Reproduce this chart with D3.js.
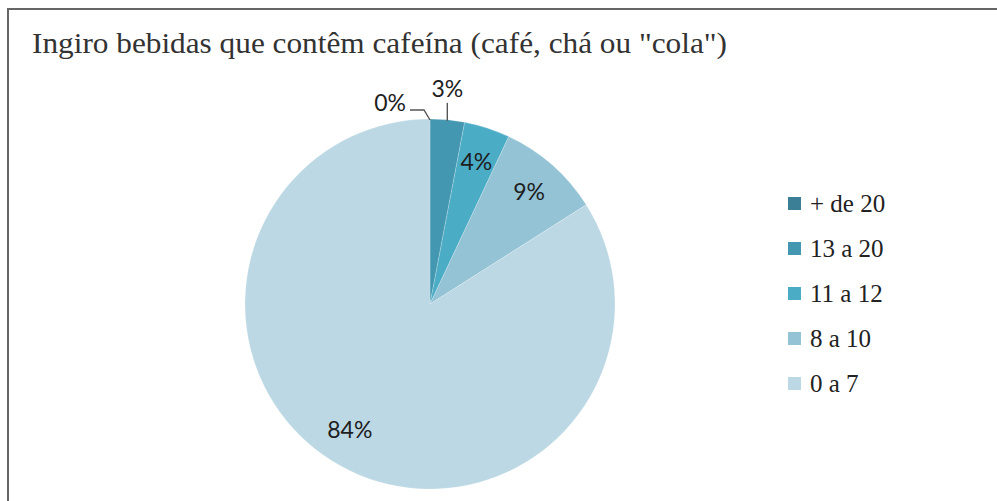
<!DOCTYPE html>
<html>
<head>
<meta charset="utf-8">
<script src="https://cdn.jsdelivr.net/npm/d3@7"></script>
<style>
  html, body { margin: 0; padding: 0; background: #fff; }
  svg { display: block; }
</style>
</head>
<body>
<svg id="chart" width="997" height="501"></svg>
<script>
// Caffeine-drink intake, share of respondents per band
const categories = ["+ de 20", "13 a 20", "11 a 12", "8 a 10", "0 a 7"];
const percents = [0, 3, 4, 9, 84];
const sliceColors = ["#3a7f95", "#4397b0", "#4bacc6", "#93c3d5", "#bcd8e4"];
const title = "Ingiro bebidas que contêm cafeína (café, chá ou \"cola\")";

const svg = d3.select("#chart");
const W = 997, H = 501;
const serif = "'Liberation Serif', 'Times New Roman', serif";

// frame (open at right and bottom)
svg.append("path")
  .attr("d", `M8,${H} L8,9 L${W},9`)
  .attr("fill", "none")
  .attr("stroke", "#666")
  .attr("stroke-width", 2);

svg.append("text")
  .attr("x", 32)
  .attr("y", 53)
  .attr("font-family", serif)
  .attr("font-size", 30)
  .attr("textLength", 695)
  .attr("lengthAdjust", "spacingAndGlyphs")
  .attr("fill", "#333")
  .text(title);

const cx = 430, cy = 304, r = 185;
const g = svg.append("g").attr("transform", `translate(${cx},${cy})`);

const data = categories.map((c, i) => ({ cat: c, value: percents[i], color: sliceColors[i] }));
const pie = d3.pie().value(d => d.value).sort(null);
const arcs = pie(data);
const arc = d3.arc().innerRadius(0).outerRadius(r);
const labelArc = d3.arc().innerRadius(r * 0.81).outerRadius(r * 0.81);

g.selectAll("path.slice")
  .data(arcs)
  .join("path")
  .attr("class", "slice")
  .attr("d", arc)
  .attr("fill", d => d.data.color)
  .attr("stroke", "rgba(255,255,255,0.35)")
  .attr("stroke-width", 0.6);

const labelFont = "Lato, 'Open Sans', sans-serif";
const labelSize = 23;
const fmt = d => d3.format(".0f")(d.data.value) + "%";

// slices too thin for an inside label get a leader line above the pie
const outside = arcs.filter(d => d.endAngle - d.startAngle < 0.25);
const inside = arcs.filter(d => d.endAngle - d.startAngle >= 0.25);

g.selectAll("text.inner")
  .data(inside)
  .join("text")
  .attr("class", "inner")
  .attr("transform", d => {
    const [x, y] = labelArc.centroid(d);
    // the large slice's label sits a little further round
    return d.value > 50 ? `translate(${x - 8},${y - 6})` : `translate(${x},${y})`;
  })
  .attr("text-anchor", "middle")
  .attr("dy", "0.36em")
  .attr("font-family", labelFont)
  .attr("font-size", labelSize)
  .attr("fill", "#1e1e1e")
  .text(fmt);

const edge = d => {
  const a = (d.startAngle + d.endAngle) / 2;
  return [Math.sin(a) * (r - 1), -Math.cos(a) * (r - 1)];
};

outside.forEach(d => {
  const [ex, ey] = edge(d);
  let pts, lx, ly, anchor;
  if (d.value === 0) {
    // bend to the left for the empty band
    pts = [[ex, ey], [ex - 6, ey - 10], [ex - 20, ey - 10]];
    lx = ex - 24; ly = ey - 9; anchor = "end";
  } else {
    pts = [[ex, ey], [ex, ey - 18]];
    lx = ex; ly = ey - 24; anchor = "middle";
  }
  g.append("path")
    .attr("d", d3.line()(pts))
    .attr("fill", "none")
    .attr("stroke", "#555")
    .attr("stroke-width", 1.4);
  g.append("text")
    .attr("x", lx)
    .attr("y", ly)
    .attr("text-anchor", anchor)
    .attr("font-family", labelFont)
    .attr("font-size", labelSize)
    .attr("fill", "#1e1e1e")
    .text(fmt(d));
});

// legend
const lg = svg.append("g").attr("transform", "translate(788,204)");
const rows = lg.selectAll("g.row")
  .data(data)
  .join("g")
  .attr("class", "row")
  .attr("transform", (d, i) => `translate(0,${i * 45})`);
rows.append("rect")
  .attr("x", 0).attr("y", -7)
  .attr("width", 13).attr("height", 13)
  .attr("fill", d => d.color);
rows.append("text")
  .attr("x", 22)
  .attr("y", 0)
  .attr("dy", "0.33em")
  .attr("font-family", serif)
  .attr("font-size", 25)
  .attr("fill", "#222")
  .text(d => d.cat);
</script>
</body>
</html>
